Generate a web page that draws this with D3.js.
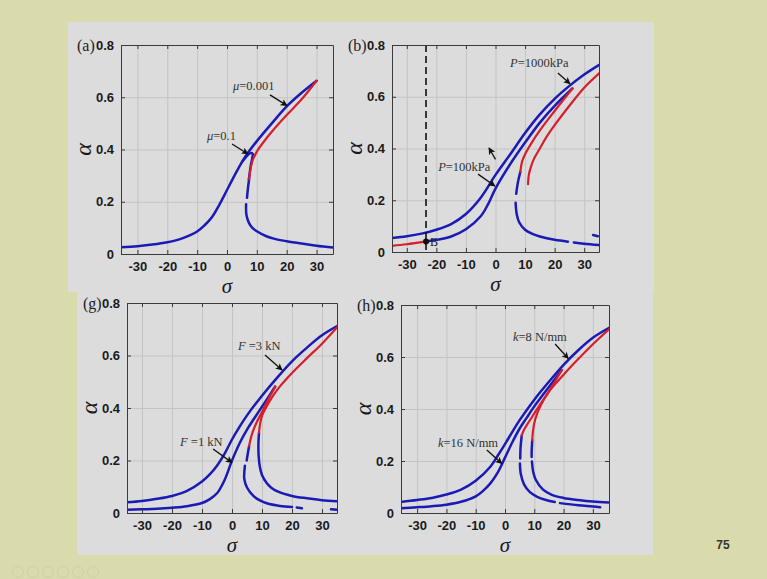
<!DOCTYPE html>
<html>
<head>
<meta charset="utf-8">
<script src="https://cdn.jsdelivr.net/npm/d3@7"></script>
<style>
  body { margin: 0; background: #dadbac; }
  svg { display: block; }
</style>
</head>
<body>
<div id="chart"></div>
<script>
// Tick values shared by all four panels
const sigmaTicks = [-30, -20, -10, 0, 10, 20, 30];
const alphaTicks = [0, 0.2, 0.4, 0.6, 0.8];

// Panel (a): mu = 0.001 and mu = 0.1, points are [sigma, alpha]
const aMu001Upper = [[-36,0.025],[-30,0.03],[-25,0.036],[-20,0.045],[-15,0.06],[-10,0.086],[-7.5,0.11],[-5,0.142],[-2.5,0.19],[0,0.245],[2.5,0.3],[5,0.352],[7.5,0.395],[10,0.432],[15,0.5],[20,0.565],[25,0.617],[30,0.663]];
const aMu001Unstable = [[30,0.663],[25,0.592],[20,0.532],[15,0.468],[12,0.425],[10,0.392],[8.5,0.355],[7.8,0.32],[7.4,0.286]];
const aMu01Peak = [[5,0.352],[6.5,0.373],[7.8,0.386],[8.6,0.384],[8.5,0.37],[7.9,0.335],[7.5,0.3],[7.3,0.286]];
const aLower = [[7.4,0.286],[7.0,0.25],[6.7,0.215],null,[6.4,0.19],[6.5,0.15],[7.3,0.12],[8.5,0.1],[10,0.087],[13,0.069],[16,0.058],[20,0.049],[25,0.04],[30,0.032],[36,0.024]];

// Panel (b): P = 1000 kPa and P = 100 kPa
const bP1000Upper = [[-36,0.053],[-30,0.061],[-25,0.071],[-20,0.086],[-15,0.108],[-10,0.147],[-5,0.21],[0,0.298],[5,0.378],[10,0.46],[15,0.532],[20,0.592],[25,0.642],[30,0.686],[36,0.73]];
const bP1000Unstable = [[36,0.7],[30,0.635],[25,0.565],[20,0.49],[17,0.44],[15,0.4],[13,0.36],[12,0.33],[11.3,0.3],[11,0.262]];
const bP1000Lower = [[33,0.066],[34.6,0.061]];
const bP100Start = [[-36,0.023],[-30,0.03],[-23.5,0.041]];
const bP100Upper = [[-23.5,0.041],[-20,0.047],[-15,0.06],[-10,0.088],[-5,0.138],[-2.5,0.185],[0,0.245],[5,0.34],[10,0.423],[15,0.5],[20,0.565],[26,0.632]];
const bP100Unstable = [[26,0.632],[20,0.545],[15,0.47],[12,0.418],[10,0.378],[9,0.35],[8.4,0.31]];
const bP100Lower = [[8.4,0.31],[7.6,0.27],[7.0,0.225],null,[6.8,0.19],[7.2,0.145],[8,0.115],[10,0.086],[12.5,0.07],[15,0.06],[20,0.047],[24.5,0.04],null,[26.5,0.037],[30,0.032],[36,0.026]];
const bMarkSigma = -23.5;
const bMarkPoint = [-23.5, 0.041];

// Panel (g): F = 3 kN and F = 1 kN
const gF3Upper = [[-36,0.04],[-30,0.046],[-25,0.054],[-20,0.065],[-15,0.084],[-10,0.12],[-7.5,0.146],[-5,0.18],[-2.5,0.225],[0,0.28],[2.5,0.328],[5,0.372],[10,0.447],[15,0.515],[20,0.578],[25,0.63],[30,0.677],[36,0.718]];
const gF3Unstable = [[36,0.72],[30,0.645],[25,0.59],[20,0.533],[15,0.468],[12,0.415],[10,0.37],[9.3,0.335],[9,0.305]];
const gF3Lower = [[9,0.305],[8.8,0.26],[8.9,0.215],[9.3,0.175],[10,0.145],[11.5,0.115],[13,0.097],[15,0.083],[20,0.065],[25,0.056],[30,0.049],[36,0.044]];
const gF1Upper = [[-36,0.012],[-30,0.014],[-25,0.016],[-20,0.02],[-15,0.026],[-10,0.038],[-7.5,0.052],[-5,0.075],[-2.5,0.125],[0,0.2],[2.5,0.265],[5,0.318],[7.5,0.362],[10,0.405],[12.5,0.448],[14.4,0.482]];
const gF1Unstable = [[14.4,0.482],[12,0.43],[10,0.385],[8,0.34],[6.5,0.295],[5.7,0.255]];
const gF1Lower = [[5.7,0.255],[5.1,0.215],[4.9,0.2],null,[4.3,0.18],[4.1,0.13],[5,0.097],[7.2,0.064],[9.5,0.047],[11.6,0.037],[16,0.027],[20,0.023],null,[21.6,0.021],[23.3,0.018],null,[33,0.014],[36,0.012]];

// Panel (h): k = 8 N/mm and k = 16 N/mm
const hK8Upper = [[-36,0.042],[-30,0.05],[-25,0.058],[-20,0.071],[-15,0.09],[-10,0.124],[-5,0.178],[-2.5,0.22],[0,0.265],[2.5,0.312],[5,0.357],[10,0.436],[15,0.505],[20,0.57],[25,0.626],[30,0.674],[36,0.715]];
const hK8Unstable = [[36,0.712],[30,0.649],[25,0.592],[20,0.532],[15,0.467],[12,0.41],[10.3,0.36],[9.6,0.32],[9.3,0.28]];
const hK8Lower = [[9.3,0.28],[9.1,0.235],[9.1,0.215],null,[9.2,0.198],[9.6,0.16],[10.5,0.128],[13,0.09],[16,0.07],[20,0.058],[25,0.05],[30,0.044],[36,0.04]];
const hK16Upper = [[-36,0.018],[-30,0.022],[-25,0.026],[-20,0.032],[-15,0.043],[-10,0.064],[-7.5,0.085],[-5,0.114],[-2.5,0.155],[0,0.213],[2.5,0.272],[5,0.325],[7.5,0.368],[10,0.41],[15,0.485],[19.4,0.55]];
const hK16Unstable = [[19.4,0.55],[15,0.468],[12,0.418],[10,0.383],[8,0.348],[6.5,0.32],[5.7,0.298]];
const hK16Lower = [[5.7,0.298],[5.3,0.25],[5.2,0.21],null,[5.1,0.19],[5.4,0.15],[6.5,0.11],[8.5,0.08],[11,0.062],[14,0.05],[17,0.042],null,[18.8,0.038],[25,0.03],[30,0.025],[32.5,0.022]];

// Annotations: text start [sigma, alpha], arrow from -> to
const aNotes = [
  {parts: [["μ", true], ["=0.001", false]], at: [2.0, 0.628], from: [14.4, 0.609], to: [20.1, 0.568]},
  {parts: [["μ", true], ["=0.1", false]], at: [-6.7, 0.436], from: [1.7, 0.421], to: [7.0, 0.383]}
];
const bNotes = [
  {parts: [["P", true], ["=1000kPa", false]], at: [4.9, 0.715], from: [21.1, 0.692], to: [25.2, 0.65]},
  {parts: [["P", true], ["=100kPa", false]], at: [-19.4, 0.313], from: [-5.9, 0.301], to: [-0.2, 0.255]},
  {parts: [], at: [0, 0], from: [0, 0.358], to: [-2.2, 0.402]}
];
const gNotes = [
  {parts: [["F", true], [" =3 kN", false]], at: [2, 0.621], from: [11, 0.602], to: [16.7, 0.545]},
  {parts: [["F", true], [" =1 kN", false]], at: [-17.3, 0.255], from: [-6.3, 0.244], to: [0, 0.192]}
];
const hNotes = [
  {parts: [["k", true], ["=8 N/mm", false]], at: [2.7, 0.662], from: [17.1, 0.65], to: [21.6, 0.594]},
  {parts: [["k", true], ["=16 N/mm", false]], at: [-22.9, 0.254], from: [-6.2, 0.242], to: [-1.1, 0.19]}
];

const colors = {blue: "#1a1ab6", red: "#d61e2c"};

const panels = [
  {id: "a", label: "(a)", left: 121, right: 333, top: 45, bottom: 254, xDom: [-35.5, 35.5], notes: aNotes,
   series: [[aMu001Upper, "blue"], [aMu01Peak, "blue"], [aLower, "blue"], [aMu001Unstable, "red"]]},
  {id: "b", label: "(b)", left: 392, right: 599, top: 45, bottom: 252, xDom: [-35, 35], notes: bNotes,
   series: [[bP1000Upper, "blue"], [bP1000Lower, "blue"], [bP100Upper, "blue"], [bP100Lower, "blue"],
            [bP1000Unstable, "red"], [bP100Unstable, "red"], [bP100Start, "red"]]},
  {id: "g", label: "(g)", left: 127, right: 337, top: 303, bottom: 513, xDom: [-35, 35], notes: gNotes,
   series: [[gF3Upper, "blue"], [gF3Lower, "blue"], [gF1Upper, "blue"], [gF1Lower, "blue"],
            [gF3Unstable, "red"], [gF1Unstable, "red"]]},
  {id: "h", label: "(h)", left: 401, right: 609, top: 305, bottom: 513, xDom: [-35.5, 35.5], notes: hNotes,
   series: [[hK8Upper, "blue"], [hK8Lower, "blue"], [hK16Upper, "blue"], [hK16Lower, "blue"],
            [hK8Unstable, "red"], [hK16Unstable, "red"]]}
];

const width = 767, height = 579;

const svg = d3.select("#chart").append("svg")
  .attr("width", width)
  .attr("height", height);

// Slide background and the grey picture area
svg.append("rect").attr("width", width).attr("height", height).attr("fill", "#dadbac");
svg.append("rect").attr("x", 68).attr("y", 22).attr("width", 586).attr("height", 270).attr("fill", "#dcdcdc");
svg.append("rect").attr("x", 77).attr("y", 290).attr("width", 576).attr("height", 265).attr("fill", "#dcdcdc");

const defs = svg.append("defs");
defs.append("marker")
  .attr("id", "arrow")
  .attr("viewBox", "0 0 10 10")
  .attr("refX", 9).attr("refY", 5)
  .attr("markerWidth", 8).attr("markerHeight", 7)
  .attr("markerUnits", "userSpaceOnUse")
  .attr("orient", "auto")
  .append("path")
  .attr("d", "M0,0 L10,5 L0,10 L2.5,5 z")
  .attr("fill", "#111");

panels.forEach(p => {
  const x = d3.scaleLinear().domain(p.xDom).range([p.left, p.right]);
  const y = d3.scaleLinear().domain([0, 0.8]).range([p.bottom, p.top]);
  const w = p.right - p.left, h = p.bottom - p.top;
  const g = svg.append("g");

  // grid
  g.append("g")
    .attr("transform", `translate(0,${p.bottom})`)
    .call(d3.axisBottom(x).tickValues(sigmaTicks).tickSize(-h).tickFormat(""))
    .call(s => s.select(".domain").remove())
    .call(s => s.selectAll("line").attr("stroke", "#c4c4c4"));
  g.append("g")
    .attr("transform", `translate(${p.left},0)`)
    .call(d3.axisLeft(y).tickValues(alphaTicks).tickSize(-w).tickFormat(""))
    .call(s => s.select(".domain").remove())
    .call(s => s.selectAll("line").attr("stroke", "#c4c4c4"));

  // curves, clipped to the axes box
  defs.append("clipPath").attr("id", "clip-" + p.id)
    .append("rect").attr("x", p.left).attr("y", p.top).attr("width", w).attr("height", h);

  const line = d3.line()
    .defined(d => d !== null)
    .x(d => x(d[0]))
    .y(d => y(d[1]))
    .curve(d3.curveCatmullRom.alpha(0.5));

  const curves = g.append("g").attr("clip-path", `url(#clip-${p.id})`);
  p.series.forEach(([pts, c]) => {
    curves.append("path")
      .datum(pts)
      .attr("fill", "none")
      .attr("stroke", colors[c])
      .attr("stroke-width", c === "blue" ? 2.5 : 2.2)
      .attr("stroke-linecap", "round")
      .attr("d", line);
  });

  // panel (b) extras: dashed marker line and point B
  if (p.id === "b") {
    g.append("line")
      .attr("x1", x(bMarkSigma)).attr("x2", x(bMarkSigma))
      .attr("y1", p.top).attr("y2", p.bottom)
      .attr("stroke", "#111").attr("stroke-width", 1.6)
      .attr("stroke-dasharray", "7,4");
    g.append("circle")
      .attr("cx", x(bMarkPoint[0])).attr("cy", y(bMarkPoint[1]))
      .attr("r", 3).attr("fill", "#111");
    g.append("text")
      .attr("x", x(bMarkPoint[0]) + 4).attr("y", y(bMarkPoint[1]) + 5)
      .attr("font-family", "Liberation Serif, Times New Roman, serif")
      .attr("font-size", 12).attr("fill", "#222")
      .text("B");
  }

  // axes box with inward ticks on all four sides
  const axisStyle = s => {
    s.select(".domain").attr("stroke", "#3a3a3a");
    s.selectAll(".tick line").attr("stroke", "#3a3a3a");
    s.selectAll("text")
      .attr("font-family", "Liberation Sans, Arial, sans-serif")
      .attr("font-weight", "bold")
      .attr("font-size", 13)
      .attr("fill", "#1a1a1a");
  };
  g.append("g")
    .attr("transform", `translate(0,${p.bottom})`)
    .call(d3.axisBottom(x).tickValues(sigmaTicks).tickSize(-4).tickSizeOuter(0).tickPadding(8).tickFormat(d => String(d)))
    .call(axisStyle);
  g.append("g")
    .attr("transform", `translate(0,${p.top})`)
    .call(d3.axisTop(x).tickValues(sigmaTicks).tickSize(-4).tickSizeOuter(0).tickFormat(""))
    .call(axisStyle);
  g.append("g")
    .attr("transform", `translate(${p.left},0)`)
    .call(d3.axisLeft(y).tickValues(alphaTicks).tickSize(-4).tickSizeOuter(0).tickPadding(7)
      .tickFormat(d => d === 0 ? "0" : d3.format(".1f")(d)))
    .call(axisStyle);
  g.append("g")
    .attr("transform", `translate(${p.right},0)`)
    .call(d3.axisRight(y).tickValues(alphaTicks).tickSize(-4).tickSizeOuter(0).tickFormat(""))
    .call(axisStyle);

  // axis titles
  g.append("text")
    .attr("x", (p.left + p.right) / 2)
    .attr("y", p.bottom + 39)
    .attr("text-anchor", "middle")
    .attr("font-family", "Liberation Serif, Times New Roman, serif")
    .attr("font-style", "italic")
    .attr("font-size", 21)
    .attr("fill", "#1a1a1a")
    .text("σ");
  g.append("text")
    .attr("transform", `translate(${p.left - 30},${(p.top + p.bottom) / 2}) rotate(-90)`)
    .attr("text-anchor", "middle")
    .attr("font-family", "Liberation Serif, Times New Roman, serif")
    .attr("font-style", "italic")
    .attr("font-size", 24)
    .attr("fill", "#1a1a1a")
    .text("α");

  // panel letter
  g.append("text")
    .attr("x", p.left - 44)
    .attr("y", p.top + 6)
    .attr("font-family", "Liberation Serif, Times New Roman, serif")
    .attr("font-size", 16)
    .attr("fill", "#222")
    .text(p.label);

  // annotations
  p.notes.forEach(n => {
    if (n.parts.length) {
      const t = g.append("text")
        .attr("x", x(n.at[0])).attr("y", y(n.at[1]))
        .attr("font-family", "Liberation Serif, Times New Roman, serif")
        .attr("font-size", 12.5)
        .attr("fill", "#333");
      n.parts.forEach(([s, it]) => {
        t.append("tspan").attr("font-style", it ? "italic" : "normal").text(s);
      });
    }
    g.append("line")
      .attr("x1", x(n.from[0])).attr("y1", y(n.from[1]))
      .attr("x2", x(n.to[0])).attr("y2", y(n.to[1]))
      .attr("stroke", "#111").attr("stroke-width", 1.3)
      .attr("marker-end", "url(#arrow)");
  });
});

// page number and faint navigation icons
svg.append("text")
  .attr("x", 723).attr("y", 549)
  .attr("text-anchor", "middle")
  .attr("font-family", "Liberation Sans, Arial, sans-serif")
  .attr("font-size", 12)
  .attr("font-weight", "bold")
  .attr("fill", "#333")
  .text("75");

svg.append("g").selectAll("circle")
  .data(d3.range(6))
  .enter()
  .append("circle")
  .attr("cx", d => 18 + d * 15)
  .attr("cy", 572)
  .attr("r", 5.5)
  .attr("fill", "none")
  .attr("stroke", "#d0d1a3")
  .attr("stroke-width", 1);
</script>
</body>
</html>
